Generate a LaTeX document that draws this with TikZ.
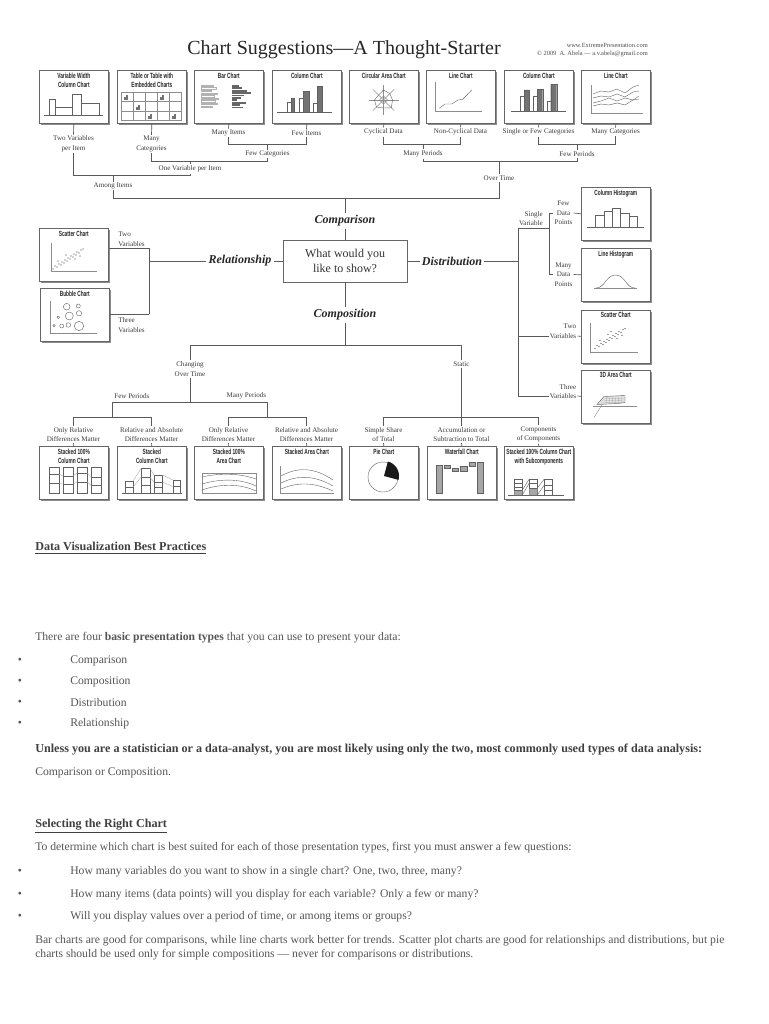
\documentclass[tikz,border=0pt]{standalone}
\usepackage{fontspec}
\setmainfont{Liberation Serif}
\newfontfamily\ctf[FakeStretch=0.64]{Liberation Sans}
\usetikzlibrary{shadows,calc}
\definecolor{ln}{HTML}{5A5A5A}
\definecolor{tx}{HTML}{3C3C3C}
\definecolor{bodytx}{HTML}{555555}
\newcommand\lblf{\fontsize{5.3}{7.2}\selectfont}
\newcommand\bigf{\fontsize{9}{11}\selectfont\bfseries\itshape}
\newcommand\ctitf{\ctf\bfseries\fontsize{5.6}{6.8}\selectfont}
\newcommand\bodyf{\fontsize{8.75}{10.5}\selectfont}
\newcommand\boldf{\fontsize{9.1}{11}\selectfont\bfseries}
\tikzset{
  conn/.style={draw=ln, line width=0.5pt},
  cl/.style={draw=black!62, line width=0.3pt},
  cbox/.style={draw=black!60, line width=0.5pt, fill=white, anchor=north west,
    minimum width=51.75pt, minimum height=39.75pt, inner sep=0pt,
    drop shadow={shadow xshift=1.3pt,shadow yshift=-1.3pt,fill=black!45,opacity=1}},
  ctitle/.style={anchor=north, font=\ctitf, align=center, inner sep=0pt, text=black!85},
  lbl/.style={font=\lblf, align=center, inner sep=0.8pt, text=tx},
  big/.style={font=\bigf, inner sep=1.5pt, text=black!85},
  qbox/.style={draw=black!60, line width=0.5pt, minimum width=93pt, minimum height=31.5pt,
    align=center, font=\fontsize{9}{11.25}\selectfont, text=black!80},
  body/.style={anchor=west, font=\bodyf, text=bodytx, inner sep=0pt},
  bul/.style={anchor=center, font=\bodyf, text=bodytx, inner sep=0pt}
}
\newcommand{\cbx}[4]{\node[cbox] (#1) at (#2,#3) {};
  \node[ctitle] (#1t) at ([yshift=-2pt]#1.north) {#4};}
\newcommand{\minicol}[2]{\draw[line width=0.2pt, black!55] (#1-0.5,#2)--(#1+4,#2)
   (#1,#2)--(#1,#2-2)--(#1+1.2,#2-2)--(#1+1.2,#2) (#1+1.8,#2)--(#1+1.8,#2-4)--(#1+3,#2-4)--(#1+3,#2);}
\begin{document}
\begin{tikzpicture}[x=0.75pt,y=-0.75pt]
\fill[white] (0,0) rectangle (768,1024);
\useasboundingbox (0,0) rectangle (768,1024);

% ---------- title ----------
\node[font=\fontsize{15}{18}\selectfont, text=black!85, inner sep=0pt] (title) at (344,50) {Chart Suggestions—A Thought-Starter};
\node[anchor=east, font=\fontsize{4.8}{6}\selectfont, align=right, text=black!70, inner sep=0pt] (web) at (648,50)
  {www.ExtremePresentation.com\\© 2009 \ A. Abela — a.v.abela@gmail.com};

% ---------- top row boxes ----------
\cbx{b1}{39}{70}{Variable Width\\Column Chart}
\cbx{b2}{117}{70}{Table or Table with\\Embedded Charts}
\cbx{b3}{194}{70}{Bar Chart}
\cbx{b4}{272}{70}{Column Chart}
\cbx{b5}{349}{70}{Circular Area Chart}
\cbx{b6}{426}{70}{Line Chart}
\cbx{b7}{504}{70}{Column Chart}
\cbx{b8}{581}{70}{Line Chart}

\begin{scope}[shift={(b1.north west)}]
  \draw[cl] (5,45)--(64,45);
  \draw[cl] (10,45) rectangle (16,29) (16,45) rectangle (33,37) (33,45) rectangle (42,24) (42,45) rectangle (60,33);
\end{scope}
\begin{scope}[shift={(b2.north west)}]
  \draw[cl, black!45] (4,22) rectangle (64,50);
  \foreach \xx in {16,28,40,52} \draw[cl, black!45] (\xx,22)--(\xx,50);
  \foreach \yy in {31.3,40.7} \draw[cl, black!45] (4,\yy)--(64,\yy);
  \minicol{7}{29.5} \minicol{43}{29.5} \minicol{19}{39} \minicol{31}{48.5} \minicol{55}{48.5}
\end{scope}
\begin{scope}[shift={(b3.north west)}]
  \foreach \yy/\len in {15/12,17.6/15,20.2/10,22.8/16,25.4/13,28/17,30.6/14,33.2/16,35.8/11}
    \draw[black!30, line width=0.2pt] (7,\yy) rectangle ++(\len,1.4);
  \foreach \yy/\len in {15/7,17.4/10,19.8/15,22.2/19,24.6/12,27/9,29.4/5,31.8/14,34.2/8,36.6/11}
    \fill[black!60] (38,\yy) rectangle ++(\len,1.8);
\end{scope}
\begin{scope}[shift={(b4.north west)}]
  \draw[cl] (5,42)--(60,42);
  \draw[cl] (15,42) rectangle (19,32) (27,42) rectangle (31,28) (41.3,42) rectangle (45.3,32.7);
  \filldraw[cl, fill=black!55] (19,42) rectangle (22.5,28) (31,42) rectangle (37,21.7) (45.3,42) rectangle (50.3,16.7);
\end{scope}
\begin{scope}[shift={(b5.north west)}]
  \coordinate (rc) at (34.5,30);
  \foreach \a in {0,45,...,315} \draw[cl, black!45] (rc) -- ++(\a:15);
  \draw[cl] ($(rc)+(0:9)$) -- ($(rc)+(45:11)$) -- ($(rc)+(90:8)$) -- ($(rc)+(135:10)$) -- ($(rc)+(180:9)$) -- ($(rc)+(225:7)$) -- ($(rc)+(270:10)$) -- ($(rc)+(315:9)$) -- cycle;
  \draw[cl, black!45] ($(rc)+(0:4)$) -- ($(rc)+(90:4)$) -- ($(rc)+(180:4)$) -- ($(rc)+(270:4)$) -- cycle;
\end{scope}
\begin{scope}[shift={(b6.north west)}]
  \draw[cl, black!45] (9,12)--(9,41)--(56,41);
  \draw[cl] (13.3,38.3)--(19,34)--(25.7,34)--(32,30)--(36.7,29.3)--(41,25)--(45.7,20);
\end{scope}
\begin{scope}[shift={(b7.north west)}]
  \draw[cl] (7,41)--(62,41);
  \draw[cl] (16,41) rectangle (20,26.7) (29.3,41) rectangle (33,26.7) (42.7,41) rectangle (46.7,31);
  \filldraw[cl, fill=black!55] (20,41) rectangle (25.3,20) (33,41) rectangle (38.7,19.3) (46.7,41) rectangle (52.7,14.3);
\end{scope}
\begin{scope}[shift={(b8.north west)}]
  \draw[cl, black!45] (10,15)--(10,43)--(62,43);
  \draw[cl] (12,24)--(20,21)--(28,22)--(36,19)--(44,23)--(52,17)--(58,15);
  \draw[cl] (12,28)--(20,26)--(28,27)--(36,24)--(44,27)--(52,22)--(58,21);
  \draw[cl] (12,33)--(20,31)--(28,28)--(36,31)--(44,28)--(52,30)--(58,26);
  \draw[cl] (12,36)--(20,34)--(28,35)--(36,33)--(44,35)--(52,30)--(58,29);
\end{scope}

% ---------- top-left tree ----------
\node[lbl] (lTwoVar) at (73.5,144) {Two Variables\\per Item};
\node[lbl] (lManyCat) at (151.5,144) {Many\\Categories};
\node[lbl] (lManyItems) at (228.5,133) {Many Items};
\node[lbl] (lFewItems) at (306.5,133) {Few Items};
\node[lbl] (lFewCat) at (267.5,154) {Few Categories};
\node[lbl] (lOneVar) at (190,169) {One Variable per Item};
\node[lbl] (lAmong) at (113,186) {Among Items};
\coordinate (jA1) at (228.5,144); \coordinate (jA2) at (306.5,144); \coordinate (jFC) at (267.5,144);
\coordinate (jB1) at (151.5,161); \coordinate (jB2) at (267.5,161); \coordinate (jOV) at (190,161);
\coordinate (jC1) at (73.5,175); \coordinate (jC2) at (190,175); \coordinate (jAI) at (113,175);
\coordinate (jD1) at (113,198.5); \coordinate (jD2) at (499,198.5); \coordinate (jCmp) at (345,198.5);
\draw[conn] (b1.south) -- (lTwoVar.north);
\draw[conn] (b2.south) -- (lManyCat.north);
\draw[conn] (b3.south) -- (lManyItems.north);
\draw[conn] (b4.south) -- (lFewItems.north);
\draw[conn] (lManyItems.south) -- (jA1) -- (jA2) -- (lFewItems.south);
\draw[conn] (jFC) -- (lFewCat.north);
\draw[conn] (lManyCat.south) -- (jB1) -- (jB2) -- (lFewCat.south);
\draw[conn] (jOV) -- (lOneVar.north);
\draw[conn] (lTwoVar.south) -- (jC1) -- (jC2) -- (lOneVar.south);
\draw[conn] (jAI) -- (lAmong.north);

% ---------- top-right tree ----------
\node[lbl] (lCyc) at (383.5,132) {Cyclical Data};
\node[lbl] (lNonCyc) at (460.5,132) {Non-Cyclical Data};
\node[lbl] (lSingle) at (538.5,132) {Single or Few Categories};
\node[lbl] (lManyCat2) at (615.5,132) {Many Categories};
\node[lbl] (lManyPer) at (423,154) {Many Periods};
\node[lbl] (lFewPer) at (577,154) {Few Periods};
\node[lbl] (lOverTime) at (499,178) {Over Time};
\coordinate (jE1) at (383.5,144); \coordinate (jE2) at (460.5,144); \coordinate (jMP) at (423,144);
\coordinate (jF1) at (538.5,144); \coordinate (jF2) at (615.5,144); \coordinate (jFP) at (577,144);
\coordinate (jG1) at (423,161); \coordinate (jG2) at (577,161); \coordinate (jOT) at (499,161);
\draw[conn] (b5.south) -- (lCyc.north);
\draw[conn] (b6.south) -- (lNonCyc.north);
\draw[conn] (b7.south) -- (lSingle.north);
\draw[conn] (b8.south) -- (lManyCat2.north);
\draw[conn] (lCyc.south) -- (jE1) -- (jE2) -- (lNonCyc.south);
\draw[conn] (lSingle.south) -- (jF1) -- (jF2) -- (lManyCat2.south);
\draw[conn] (jMP) -- (lManyPer.north);
\draw[conn] (jFP) -- (lFewPer.north);
\draw[conn] (lManyPer.south) -- (jG1) -- (jG2) -- (lFewPer.south);
\draw[conn] (jOT) -- (lOverTime.north);
\draw[conn] (lAmong.south) -- (jD1) -- (jD2) -- (lOverTime.south);

% ---------- centre ----------
\node[qbox] (q) at (345,261) {What would you\\like to show?};
\node[big] (tCmp) at (345,221) {Comparison};
\node[big] (tRel) at (240,261) {Relationship};
\node[big] (tDist) at (452,261) {Distribution};
\node[big] (tComp) at (345,315) {Composition};
\draw[conn] (jCmp) -- (tCmp.north);
\draw[conn] (tCmp.south) -- (q.north);
\draw[conn] (q.west) -- (tRel.east);
\draw[conn] (q.east) -- (tDist.west);
\draw[conn] (q.south) -- (tComp.north);

% ---------- relationship ----------
\cbx{s1}{39}{228}{Scatter Chart}
\cbx{s2}{40}{288}{Bubble Chart}
\begin{scope}[shift={(s1.north west)}]
  \draw[cl, black!45] (11.7,15)--(11.7,42.7)--(57.7,42.7);
  \foreach \xx/\yy in {14/41,16/38,18/39,20/36,22/37,23/34,25/35,26/32,28/33,29/30,31/31,32/28,34/29,35/26,37/27,38/24,40/25,42/22,44/21,27/27,36/31,19/33,41/28}
    \fill[black!75] (\xx,\yy) circle[radius=0.5pt];
\end{scope}
\begin{scope}[shift={(s2.north west)}]
  \draw[cl, black!45] (10,13)--(10,44.7)--(56.7,44.7);
  \foreach \xx/\yy/\rr in {26.7/18.7/2.5,38.3/18/1.5,29.3/28/3,39/25.3/2,18.3/29.3/1,14/37.7/0.9,21.7/38/1.5,28.3/37/1.7,39/38/3.5}
    \draw[cl] (\xx,\yy) circle[radius=\rr pt];
\end{scope}
\node[lbl, anchor=west, align=left] (lTwoR) at (117,239) {Two\\Variables};
\node[lbl, anchor=west, align=left] (lThreeR) at (117,325) {Three\\Variables};
\coordinate (jR) at (149,261); \coordinate (jR1) at (149,248); \coordinate (jR2) at (149,314);
\draw[conn] (tRel.west) -- (jR);
\draw[conn] (jR1) -- (jR2);
\draw[conn] (jR1) -- (jR1 -| s1.east);
\draw[conn] (jR2) -- (jR2 -| s2.east);

% ---------- distribution ----------
\cbx{h1}{581}{187}{Column Histogram}
\cbx{h2}{581}{248}{Line Histogram}
\cbx{h3}{581}{309.5}{Scatter Chart}
\cbx{h4}{581}{369.5}{3D Area Chart}
\begin{scope}[shift={(h1.north west)}]
  \draw[cl] (6,40)--(63,40);
  \draw[cl] (14.3,40) rectangle (22.7,28) (22.7,40) rectangle (30.7,24) (30.7,40) rectangle (39,21.3) (39,40) rectangle (47.7,26.3) (47.7,40) rectangle (56,29);
\end{scope}
\begin{scope}[shift={(h2.north west)}]
  \draw[cl, black!45] (13,40)--(56,40);
  \draw[cl] (15,40) .. controls (24,40) and (25,27) .. (34.5,27) .. controls (44,27) and (45,40) .. (54,40);
\end{scope}
\begin{scope}[shift={(h3.north west)}]
  \draw[cl, black!45] (9,13)--(9,43)--(57,43);
  \foreach \xx/\yy in {14/39,16/36,18/37,20/34,22/35,23/32,25/33,26/30,28/31,29/28,31/29,32/26,34/27,35/24,37/25,38/22,40/23,42/20,44/19,27/25,36/29,19/31,41/26,30/22}
    \fill[black!75] (\xx,\yy) circle[radius=0.5pt];
\end{scope}
\begin{scope}[shift={(h4.north west)}]
  \draw[cl, black!45] (12,37)--(56,37);
  \draw[cl, black!45] (13,48)--(25,29);
  \filldraw[cl, fill=black!10] (16,35)--(23,27)--(44,26)--(44,33)--(37,34)--cycle;
  \foreach \yy in {28.5,30.5,32.5} \draw[black!40, line width=0.15pt] (20,\yy+1)--(44,\yy);
  \foreach \xx in {26,29,...,42} \draw[black!40, line width=0.15pt] (\xx,27)--(\xx-1,34);
\end{scope}
\node[lbl, anchor=east, align=right] (lSingleV) at (544,218.5) {Single\\Variable};
\node[lbl] (lFewDP) at (563.5,213) {Few\\Data\\Points};
\node[lbl] (lManyDP) at (563.5,274.5) {Many\\Data\\Points};
\node[lbl, anchor=east, align=right] (lTwoD) at (577.5,331.5) {Two\\Variables};
\node[lbl, anchor=east, align=right] (lThreeD) at (577.5,391.5) {Three\\Variables};
\coordinate (jS) at (518,261); \coordinate (jS1) at (518,228); \coordinate (jS3) at (518,336); \coordinate (jS4) at (518,396);
\coordinate (jT1) at (549,228); \coordinate (jT2) at (549,213); \coordinate (jT3) at (549,274.5);
\draw[conn] (tDist.east) -- (jS);
\draw[conn] (jS1) -- (jS4);
\draw[conn] (jS1) -- (jT1);
\draw[conn] (jT2) -- (jT3);
\draw[conn] (jT2) -- (lFewDP.west);
\draw[conn] (lFewDP.east) -- (h1.west);
\draw[conn] (jT3) -- (lManyDP.west);
\draw[conn] (lManyDP.east) -- (h2.west);
\draw[conn] (jS3) -- (jS3 -| lTwoD.west);
\draw[conn] (jS3 -| lTwoD.east) -- (h3.west);
\draw[conn] (jS4) -- (jS4 -| lThreeD.west);
\draw[conn] (jS4 -| lThreeD.east) -- (h4.west);

% ---------- composition ----------
\node[lbl] (lChg) at (190,369) {Changing\\Over Time};
\node[lbl] (lStatic) at (461.5,364) {Static};
\node[lbl, anchor=south west] (lFewP2) at (113,400) {Few Periods};
\node[lbl, anchor=south east] (lManyP2) at (267.5,400) {Many Periods};
\coordinate (jK) at (345,345); \coordinate (jK1) at (190,345); \coordinate (jK2) at (461.5,345);
\coordinate (jL) at (190,402); \coordinate (jL1) at (112.5,402); \coordinate (jL2) at (267.5,402);
\coordinate (jM1) at (112.5,417); \coordinate (jM2) at (267.5,417);
\coordinate (jN1) at (73.5,417); \coordinate (jN2) at (151.5,417);
\coordinate (jN3) at (228.5,417); \coordinate (jN4) at (306.5,417);
\coordinate (jP) at (461.5,417); \coordinate (jP1) at (383.5,417); \coordinate (jP3) at (538.5,417);
\draw[conn] (tComp.south) -- (jK);
\draw[conn] (jK1) -- (jK2);
\draw[conn] (jK1) -- (lChg.north);
\draw[conn] (lChg.south) -- (jL);
\draw[conn] (jL1) -- (jL2);
\draw[conn] (jL1) -- (jM1);
\draw[conn] (jL2) -- (jM2);
\draw[conn] (jN1) -- (jN2);
\draw[conn] (jN3) -- (jN4);
\draw[conn] (jK2) -- (lStatic.north);
\draw[conn] (lStatic.south) -- (jP);
\draw[conn] (jP1) -- (jP3);

\node[lbl] (l1) at (73.5,434.5) {Only Relative\\Differences Matter};
\node[lbl] (l2) at (151.5,434.5) {Relative and Absolute\\Differences Matter};
\node[lbl] (l3) at (228.5,434.5) {Only Relative\\Differences Matter};
\node[lbl] (l4) at (306.5,434.5) {Relative and Absolute\\Differences Matter};
\node[lbl] (l5) at (383.5,434.5) {Simple Share\\of Total};
\node[lbl] (l6) at (461.5,434.5) {Accumulation or\\Subtraction to Total};
\node[lbl] (l7) at (538.5,434.5) {Components\\of Components};

\cbx{c1}{39}{446}{Stacked 100\%\\Column Chart}
\cbx{c2}{117}{446}{Stacked\\Column Chart}
\cbx{c3}{194}{446}{Stacked 100\%\\Area Chart}
\cbx{c4}{272}{446}{Stacked Area Chart}
\cbx{c5}{349}{446}{Pie Chart}
\cbx{c6}{427}{446}{Waterfall Chart}
\cbx{c7}{504}{446}{Stacked 100\% Column Chart\\with Subcomponents}

\draw[conn] (jN1) -- (l1.north); \draw[conn] (l1.south) -- (c1.north);
\draw[conn] (jN2) -- (l2.north); \draw[conn] (l2.south) -- (c2.north);
\draw[conn] (jN3) -- (l3.north); \draw[conn] (l3.south) -- (c3.north);
\draw[conn] (jN4) -- (l4.north); \draw[conn] (l4.south) -- (c4.north);
\draw[conn] (jP1) -- (l5.north); \draw[conn] (l5.south) -- (c5.north);
\draw[conn] (jP) -- (l6.north); \draw[conn] (l6.south) -- (c6.north);
\draw[conn] (jP3) -- (l7.north); \draw[conn] (l7.south) -- (c7.north);

\begin{scope}[shift={(c1.north west)}]
  \foreach \xx in {10,24,38,52} \draw[cl] (\xx,21) rectangle ++(10,26);
  \draw[cl] (10,28)--(20,28) (24,30)--(34,30) (38,27)--(48,27) (52,31)--(62,31)
            (10,37)--(20,37) (24,38)--(34,38) (38,36)--(48,36) (52,39)--(62,39);
  \draw[black!35, line width=0.25pt] (20,28)--(24,30) (34,30)--(38,27) (48,27)--(52,31)
            (20,37)--(24,38) (34,38)--(38,36) (48,36)--(52,39);
\end{scope}
\begin{scope}[shift={(c2.north west)}]
  \draw[cl] (5,47)--(65,47);
  \draw[cl] (8,47) rectangle (16,35) (24.3,47) rectangle (32.7,22) (37,47) rectangle (45.3,29) (56,47) rectangle (62.7,34);
  \draw[cl] (8,41)--(16,41) (24.3,31)--(32.7,31) (24.3,39)--(32.7,39) (37,36)--(45.3,36) (37,41.5)--(45.3,41.5) (56,40.5)--(62.7,40.5);
  \draw[black!35, line width=0.25pt] (16,35)--(24.3,22) (32.7,22)--(37,29) (45.3,29)--(56,34)
     (16,41)--(24.3,31) (32.7,31)--(37,36) (45.3,36)--(56,40.5);
\end{scope}
\begin{scope}[shift={(c3.north west)}]
  \draw[cl, black!45] (8,27) rectangle (62,47);
  \draw[cl] (8,31) .. controls (25,27) and (45,27) .. (62,33);
  \draw[cl] (8,38) .. controls (25,33) and (45,32) .. (62,40);
  \draw[cl] (8,44) .. controls (25,38) and (45,37) .. (62,45);
\end{scope}
\begin{scope}[shift={(c4.north west)}]
  \draw[cl, black!45] (8,20)--(8,47)--(62,47);
  \draw[cl] (9,30) .. controls (25,21) and (42,21) .. (61,34);
  \draw[cl] (9,37) .. controls (25,29) and (42,29) .. (61,40);
  \draw[cl] (9,43) .. controls (25,36) and (42,36) .. (61,45);
\end{scope}
\begin{scope}[shift={(c5.north west)}]
  \draw[cl] (34,31) circle[radius=11.25pt];
  \fill[black!90] (35,30) -- plot[domain=-75:15,samples=24] ({35+15*cos(\x)},{30+15*sin(\x)}) -- cycle;
\end{scope}
\begin{scope}[shift={(c6.north west)}]
  \filldraw[cl, fill=black!35] (9,47) rectangle (15,19) (50,47) rectangle (56,16)
     (17,19) rectangle (23,22) (25,22) rectangle (31,25) (33,20) rectangle (40,25) (42,16) rectangle (48,20);
\end{scope}
\begin{scope}[shift={(c7.north west)}]
  \draw[cl] (4,49)--(60,49);
  \foreach \xx in {10.3,25.3,40.3} \draw[cl] (\xx,33) rectangle ++(8,16);
  \fill[black!35] (10.3,44) rectangle (18.3,49) (25.3,42) rectangle (33.3,49);
  \draw[cl] (10.3,37)--(18.3,37) (10.3,41)--(18.3,41) (10.3,44)--(18.3,44)
            (25.3,37)--(33.3,37) (25.3,42)--(33.3,42) (40.3,39)--(48.3,39) (40.3,44)--(48.3,44);
  \draw[cl] (18.3,44)--(25.3,33) (18.3,49)--(25.3,37) (33.3,42)--(40.3,33) (33.3,49)--(40.3,39);
\end{scope}

% ---------- lower text ----------
\node[body, font=\boldf, text=black!75] (h1txt) at (35,548) {\underline{Data Visualization Best Practices}};
\node[body] (p1) at (35,638) {There are four \textbf{basic presentation types} that you can use to present your data:};
\node[bul] (bu1) at (20,661) {•}; \node[body] (t1) at (70,661) {Comparison};
\node[bul] (bu2) at (20,682) {•}; \node[body] (t2) at (70,682) {Composition};
\node[bul] (bu3) at (20,703) {•}; \node[body] (t3) at (70,703) {Distribution};
\node[bul] (bu4) at (20,724) {•}; \node[body] (t4) at (70,724) {Relationship};
\node[body, font=\boldf, text=black!75] (p2) at (35,750) {Unless you are a statistician or a data-analyst, you are most likely using only the two, most commonly used types of data analysis:};
\node[body] (p3) at (35,773) {Comparison or Composition.};
\node[body, font=\boldf, text=black!75] (h2txt) at (35,826) {\underline{Selecting the Right Chart}};
\node[body] (p4) at (35,848) {To determine which chart is best suited for each of those presentation types, first you must answer a few questions:};
\node[bul] (bu5) at (20,872) {•}; \node[body] (t5) at (70,872) {How many variables do you want to show in a single chart? One, two, three, many?};
\node[bul] (bu6) at (20,895) {•}; \node[body] (t6) at (70,895) {How many items (data points) will you display for each variable? Only a few or many?};
\node[bul] (bu7) at (20,917) {•}; \node[body] (t7) at (70,917) {Will you display values over a period of time, or among items or groups?};
\node[body, anchor=north west, align=left] (p5) at (35,935) {Bar charts are good for comparisons, while line charts work better for trends. Scatter plot charts are good for relationships and distributions, but pie\\charts should be used only for simple compositions — never for comparisons or distributions.};
\end{tikzpicture}
\end{document}
